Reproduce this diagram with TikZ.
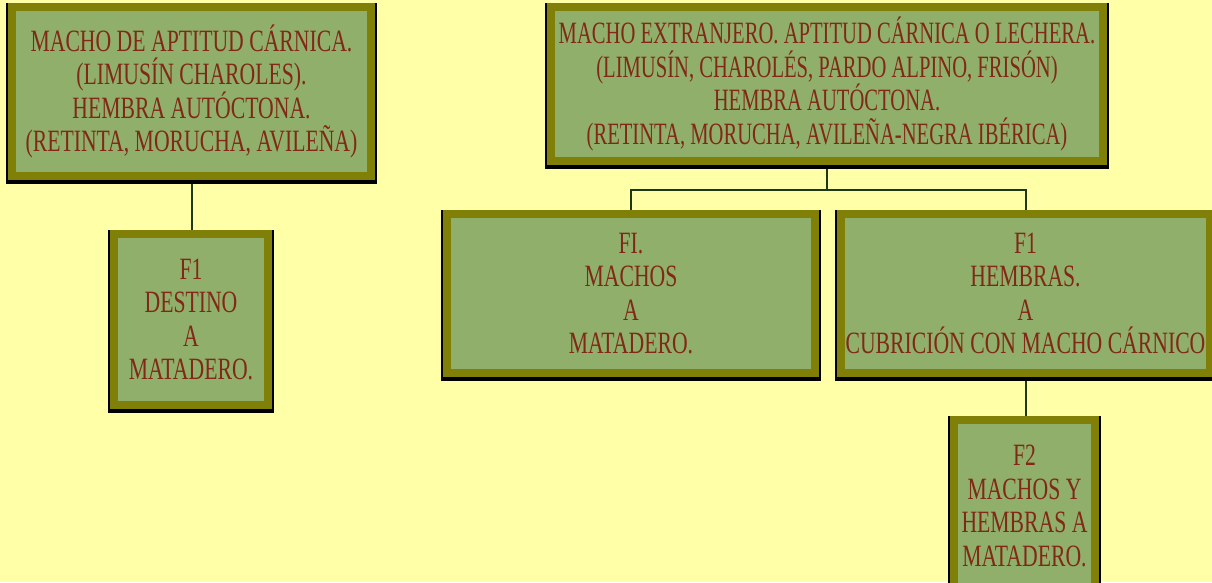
\documentclass[tikz,border=0pt]{standalone}
\usepackage{fontspec}
\newfontfamily\boxfont[FakeStretch=0.70]{Liberation Serif}
\newfontfamily\boxfontn[FakeStretch=0.665]{Liberation Serif}
\definecolor{bgyellow}{RGB}{255,255,168}
\definecolor{olivefr}{RGB}{128,128,8}
\definecolor{boxgreen}{RGB}{143,175,107}
\definecolor{txtred}{RGB}{130,40,22}
\definecolor{linecol}{RGB}{30,55,20}
\pgfdeclarelayer{bg}
\pgfdeclarelayer{lines}
\pgfsetlayers{bg,lines,main}
\begin{document}
\begin{tikzpicture}[x=1pt,y=-1pt,
  box/.style={draw=olivefr, line width=8pt, fill=boxgreen, inner sep=0pt, outer sep=0pt,
    align=center, text=txtred, font=\boxfont\fontsize{31}{33.5}\selectfont,
    preaction={draw=black, line width=12pt, transform canvas={yshift=-2pt}}},
  conn/.style={draw=linecol, line width=2pt}]
\useasboundingbox (0,0) rectangle (1212,582);
\begin{pgfonlayer}{bg}
\fill[bgyellow] (0,0) rectangle (1212,582);
\end{pgfonlayer}
\clip (0,0) rectangle (1212,582);

\node[box, minimum width=359pt, minimum height=169pt] (b1) at (191.5,91.5)
  {MACHO DE APTITUD CÁRNICA.\\(LIMUSÍN CHAROLES).\\HEMBRA AUTÓCTONA.\\(RETINTA, MORUCHA, AVILEÑA)};
\node[box, minimum width=154pt, minimum height=171pt] (b2) at (191,319.5)
  {F1\\DESTINO\\A\\MATADERO.};
\node[box, minimum width=552pt, minimum height=154pt, font=\boxfontn\fontsize{31}{33.5}\selectfont] (b3) at (827,84)
  {MACHO EXTRANJERO. APTITUD CÁRNICA O LECHERA.\\(LIMUSÍN, CHAROLÉS, PARDO ALPINO, FRISÓN)\\HEMBRA AUTÓCTONA.\\(RETINTA, MORUCHA, AVILEÑA-NEGRA IBÉRICA)};
\node[box, minimum width=368pt, minimum height=159pt] (b4) at (631,293.5)
  {FI.\\MACHOS\\A\\MATADERO.};
\node[box, minimum width=369pt, minimum height=159pt] (b5) at (1025.5,293.5)
  {F1\\HEMBRAS.\\A\\CUBRICIÓN CON MACHO CÁRNICO};
\node[box, minimum width=141pt, minimum height=172pt] (b6) at (1024.5,506)
  {F2\\MACHOS Y\\HEMBRAS A\\MATADERO.};

\begin{pgfonlayer}{lines}
\draw[conn] (b1.south) -- (b1.south |- b2.north);
\draw[conn] (b3.south) -- (b3.south |- 0,190) coordinate (sp);
\draw[conn] (sp) -| (b4.north);
\draw[conn] (sp) -| (b5.north);
\draw[conn] (b5.south) -- (b5.south |- b6.north);
\end{pgfonlayer}
\end{tikzpicture}
\end{document}
